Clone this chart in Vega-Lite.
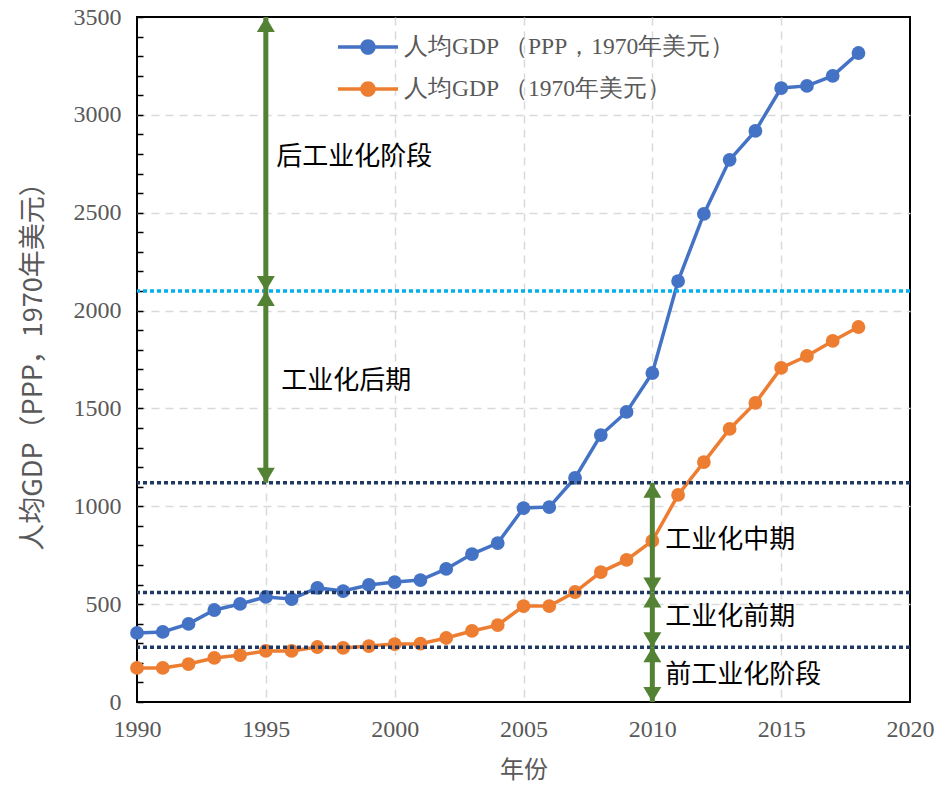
{
  "$schema": "https://vega.github.io/schema/vega-lite/v6.json",
  "width": 773,
  "height": 685,
  "autosize": {"type": "none"},
  "padding": {"left": 137, "top": 17, "right": 29, "bottom": 89},
  "background": "white",
  "config": {
    "view": {"stroke": "black", "strokeWidth": 2},
    "axis": {"labelColor": "#595959", "titleColor": "#595959"}
  },
  "datasets": {
    "gdp": [
      {"year": 1990, "series": "人均GDP （PPP，1970年美元）", "value": 353},
      {"year": 1991, "series": "人均GDP （PPP，1970年美元）", "value": 358},
      {"year": 1992, "series": "人均GDP （PPP，1970年美元）", "value": 399},
      {"year": 1993, "series": "人均GDP （PPP，1970年美元）", "value": 470},
      {"year": 1994, "series": "人均GDP （PPP，1970年美元）", "value": 501},
      {"year": 1995, "series": "人均GDP （PPP，1970年美元）", "value": 537},
      {"year": 1996, "series": "人均GDP （PPP，1970年美元）", "value": 526},
      {"year": 1997, "series": "人均GDP （PPP，1970年美元）", "value": 583},
      {"year": 1998, "series": "人均GDP （PPP，1970年美元）", "value": 567},
      {"year": 1999, "series": "人均GDP （PPP，1970年美元）", "value": 598},
      {"year": 2000, "series": "人均GDP （PPP，1970年美元）", "value": 613},
      {"year": 2001, "series": "人均GDP （PPP，1970年美元）", "value": 623},
      {"year": 2002, "series": "人均GDP （PPP，1970年美元）", "value": 680},
      {"year": 2003, "series": "人均GDP （PPP，1970年美元）", "value": 756},
      {"year": 2004, "series": "人均GDP （PPP，1970年美元）", "value": 812},
      {"year": 2005, "series": "人均GDP （PPP，1970年美元）", "value": 991},
      {"year": 2006, "series": "人均GDP （PPP，1970年美元）", "value": 996},
      {"year": 2007, "series": "人均GDP （PPP，1970年美元）", "value": 1145},
      {"year": 2008, "series": "人均GDP （PPP，1970年美元）", "value": 1364},
      {"year": 2009, "series": "人均GDP （PPP，1970年美元）", "value": 1482},
      {"year": 2010, "series": "人均GDP （PPP，1970年美元）", "value": 1681},
      {"year": 2011, "series": "人均GDP （PPP，1970年美元）", "value": 2151},
      {"year": 2012, "series": "人均GDP （PPP，1970年美元）", "value": 2494},
      {"year": 2013, "series": "人均GDP （PPP，1970年美元）", "value": 2770},
      {"year": 2014, "series": "人均GDP （PPP，1970年美元）", "value": 2918},
      {"year": 2015, "series": "人均GDP （PPP，1970年美元）", "value": 3137},
      {"year": 2016, "series": "人均GDP （PPP，1970年美元）", "value": 3148},
      {"year": 2017, "series": "人均GDP （PPP，1970年美元）", "value": 3199},
      {"year": 2018, "series": "人均GDP （PPP，1970年美元）", "value": 3316},
      {"year": 1990, "series": "人均GDP （1970年美元）", "value": 174},
      {"year": 1991, "series": "人均GDP （1970年美元）", "value": 174},
      {"year": 1992, "series": "人均GDP （1970年美元）", "value": 194},
      {"year": 1993, "series": "人均GDP （1970年美元）", "value": 225},
      {"year": 1994, "series": "人均GDP （1970年美元）", "value": 240},
      {"year": 1995, "series": "人均GDP （1970年美元）", "value": 261},
      {"year": 1996, "series": "人均GDP （1970年美元）", "value": 261},
      {"year": 1997, "series": "人均GDP （1970年美元）", "value": 281},
      {"year": 1998, "series": "人均GDP （1970年美元）", "value": 276},
      {"year": 1999, "series": "人均GDP （1970年美元）", "value": 286},
      {"year": 2000, "series": "人均GDP （1970年美元）", "value": 296},
      {"year": 2001, "series": "人均GDP （1970年美元）", "value": 298},
      {"year": 2002, "series": "人均GDP （1970年美元）", "value": 327},
      {"year": 2003, "series": "人均GDP （1970年美元）", "value": 363},
      {"year": 2004, "series": "人均GDP （1970年美元）", "value": 393},
      {"year": 2005, "series": "人均GDP （1970年美元）", "value": 490},
      {"year": 2006, "series": "人均GDP （1970年美元）", "value": 490},
      {"year": 2007, "series": "人均GDP （1970年美元）", "value": 562},
      {"year": 2008, "series": "人均GDP （1970年美元）", "value": 664},
      {"year": 2009, "series": "人均GDP （1970年美元）", "value": 726},
      {"year": 2010, "series": "人均GDP （1970年美元）", "value": 823},
      {"year": 2011, "series": "人均GDP （1970年美元）", "value": 1058},
      {"year": 2012, "series": "人均GDP （1970年美元）", "value": 1226},
      {"year": 2013, "series": "人均GDP （1970年美元）", "value": 1395},
      {"year": 2014, "series": "人均GDP （1970年美元）", "value": 1528},
      {"year": 2015, "series": "人均GDP （1970年美元）", "value": 1707},
      {"year": 2016, "series": "人均GDP （1970年美元）", "value": 1768},
      {"year": 2017, "series": "人均GDP （1970年美元）", "value": 1845},
      {"year": 2018, "series": "人均GDP （1970年美元）", "value": 1916}
    ],
    "lightLevel": [{"level": 2100}],
    "darkLevels": [{"level": 1120}, {"level": 560}, {"level": 280}],
    "arrows": [
      {"x": 1995, "lo": 2100, "hi": 3500},
      {"x": 1995, "lo": 1120, "hi": 2100},
      {"x": 2010, "lo": 560, "hi": 1120},
      {"x": 2010, "lo": 280, "hi": 560},
      {"x": 2010, "lo": 0, "hi": 280}
    ],
    "stages": [
      {"label": "后工业化阶段", "x": 1995.4, "y": 2785},
      {"label": "工业化后期", "x": 1995.6, "y": 1640},
      {"label": "工业化中期", "x": 2010.5, "y": 828},
      {"label": "工业化前期", "x": 2010.5, "y": 434},
      {"label": "前工业化阶段", "x": 2010.5, "y": 138}
    ]
  },
  "encoding": {
    "x": {
      "type": "quantitative",
      "scale": {"domain": [1990, 2020], "nice": false, "zero": false},
      "axis": {
        "title": "年份",
        "values": [1990, 1995, 2000, 2005, 2010, 2015, 2020],
        "format": "d",
        "ticks": false,
        "tickSize": 0,
        "domain": false,
        "labelFont": "Liberation Serif",
        "labelFontSize": 24,
        "labelPadding": 15,
        "labelOverlap": false,
        "labelFlush": false,
        "labelBound": false,
        "titleFont": "Noto Sans CJK SC",
        "titleFontSize": 24,
        "titleFontWeight": "normal",
        "titlePadding": 17,
        "grid": true,
        "gridColor": {"condition": {"test": "datum.value > 1990 && datum.value < 2020", "value": "#d9d9d9"}, "value": "transparent"},
        "gridDash": [8, 6],
        "gridWidth": 1.5
      }
    },
    "y": {
      "type": "quantitative",
      "scale": {"domain": [0, 3500], "nice": false},
      "axis": {
        "title": "人均GDP（PPP，1970年美元）",
        "values": [0, 100, 200, 300, 400, 500, 600, 700, 800, 900, 1000, 1100, 1200, 1300, 1400, 1500, 1600, 1700, 1800, 1900, 2000, 2100, 2200, 2300, 2400, 2500, 2600, 2700, 2800, 2900, 3000, 3100, 3200, 3300, 3400, 3500],
        "labelExpr": "datum.value % 500 === 0 ? datum.label : ''",
        "format": "d",
        "tickSize": -6,
        "tickColor": "black",
        "tickWidth": 1.5,
        "domain": false,
        "labelFont": "Liberation Serif",
        "labelFontSize": 24,
        "labelPadding": 22,
        "labelOverlap": false,
        "labelBound": false,
        "labelFlush": false,
        "titleFont": "Noto Sans CJK SC",
        "titleFontSize": 27,
        "titleFontWeight": "normal",
        "titlePadding": 26,
        "grid": true,
        "gridColor": {"condition": {"test": "datum.value % 500 === 0 && datum.value > 0 && datum.value < 3500", "value": "#d9d9d9"}, "value": "transparent"},
        "gridDash": [8, 6],
        "gridWidth": 1.5
      }
    }
  },
  "layer": [
    {
      "data": {"name": "gdp"},
      "mark": {"type": "line", "strokeWidth": 3.5, "point": {"filled": true, "size": 190, "opacity": 1}},
      "encoding": {
        "x": {"field": "year"},
        "y": {"field": "value"},
        "color": {
          "field": "series",
          "type": "nominal",
          "sort": null,
          "scale": {"domain": ["人均GDP （PPP，1970年美元）", "人均GDP （1970年美元）"], "range": ["#4472c4", "#ed7d31"]},
          "legend": {
            "orient": "none",
            "legendX": 201,
            "legendY": 0,
            "title": null,
            "padding": 0,
            "symbolType": "M -1 -0.055 L 1 -0.055 L 1 0.055 L -1 0.055 Z M 0.26 0 A 0.26 0.26 0 1 1 -0.26 0 A 0.26 0.26 0 1 1 0.26 0 Z",
            "symbolSize": 3600,
            "symbolStrokeWidth": 0,
            "labelFont": "Liberation Serif",
            "labelFontSize": 23.5,
            "labelColor": "#595959",
            "labelOffset": 6,
            "labelLimit": 0,
            "rowPadding": -19,
            "encode": {"symbols": {"update": {"fill": {"scale": "color", "field": "value"}, "stroke": {"value": "transparent"}, "opacity": {"value": 1}}}}
          }
        }
      }
    },
    {
      "data": {"name": "lightLevel"},
      "mark": {"type": "rule", "color": "#00b0f0", "strokeWidth": 3.5, "strokeDash": [4, 3]},
      "encoding": {"y": {"field": "level"}}
    },
    {
      "data": {"name": "darkLevels"},
      "mark": {"type": "rule", "color": "#1f3864", "strokeWidth": 3.5, "strokeDash": [4, 3]},
      "encoding": {"y": {"field": "level"}}
    },
    {
      "data": {"name": "arrows"},
      "mark": {"type": "rule", "color": "#548235", "strokeWidth": 5},
      "encoding": {"x": {"field": "x"}, "y": {"field": "lo"}, "y2": {"field": "hi"}}
    },
    {
      "data": {"name": "arrows"},
      "mark": {"type": "point", "shape": "M 0 0 L 0.6 1 L -0.6 1 Z", "size": 900, "filled": true, "color": "#548235", "opacity": 1},
      "encoding": {"x": {"field": "x"}, "y": {"field": "hi"}}
    },
    {
      "data": {"name": "arrows"},
      "mark": {"type": "point", "shape": "M 0 0 L 0.6 -1 L -0.6 -1 Z", "size": 900, "filled": true, "color": "#548235", "opacity": 1},
      "encoding": {"x": {"field": "x"}, "y": {"field": "lo"}}
    },
    {
      "data": {"name": "stages"},
      "mark": {"type": "text", "align": "left", "baseline": "middle", "font": "Noto Sans CJK SC", "fontSize": 26, "color": "black"},
      "encoding": {"x": {"field": "x"}, "y": {"field": "y"}, "text": {"field": "label"}}
    }
  ]
}
